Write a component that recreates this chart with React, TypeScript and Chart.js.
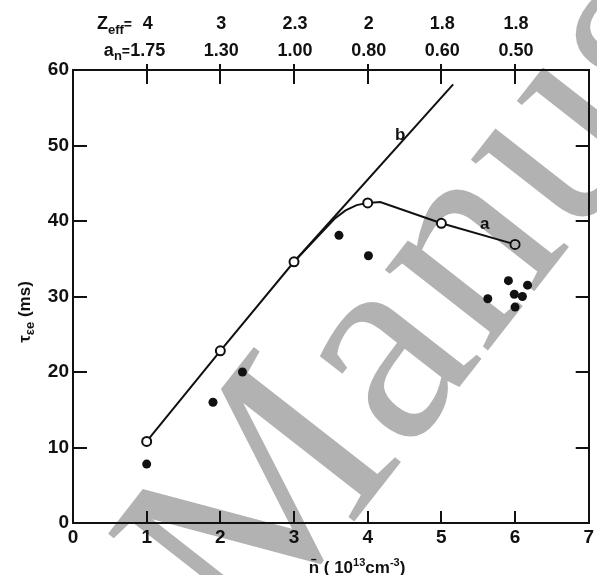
import React, { useEffect, useRef } from "react";
import { Chart, registerables } from "chart.js";
Chart.register(...registerables);

// ---- data ----
const openX = [1, 2, 3, 4, 5, 6];
const openY = [10.8, 22.8, 34.6, 42.4, 39.7, 36.9];
const curveAX = [1, 2, 3, 3.55, 3.7, 3.85, 4, 4.17, 5, 6];
const curveAY = [10.8, 22.8, 34.6, 40.3, 41.4, 42.1, 42.4, 42.5, 39.7, 36.9];
const lineBX = [3, 5.16];
const lineBY = [34.6, 58.1];
const filledX = [1.0, 1.9, 2.3, 3.61, 4.01, 5.63, 5.91, 5.99, 6.1, 6.17, 6.0];
const filledY = [7.8, 16.0, 20.0, 38.1, 35.4, 29.7, 32.1, 30.3, 30.0, 31.5, 28.6];
const topTickPos = [1, 2, 3, 4, 5, 6];
const zeffLabels = ["4", "3", "2.3", "2", "1.8", "1.8"];
const anLabels = ["1.75", "1.30", "1.00", "0.80", "0.60", "0.50"];
const yInnerTicks = [10, 20, 30, 40, 50];
const curveLabels = [
  { text: "b", x: 4.44, y: 51.4 },
  { text: "a", x: 5.59, y: 39.5 },
];

const SANS = "'Liberation Sans', Arial, sans-serif";

type Seg = { t: string; f: string; dy?: number };
function drawSegs(ctx: CanvasRenderingContext2D, segs: Seg[], x: number, y: number, align: "left" | "center" | "right") {
  let total = 0;
  const widths = segs.map((s) => {
    ctx.font = s.f;
    const w = ctx.measureText(s.t).width;
    total += w;
    return w;
  });
  let cx = align === "left" ? x : align === "center" ? x - total / 2 : x - total;
  ctx.textAlign = "left";
  ctx.textBaseline = "alphabetic";
  segs.forEach((s, i) => {
    ctx.font = s.f;
    ctx.fillText(s.t, cx, y + (s.dy || 0));
    cx += widths[i];
  });
}

const decorPlugin = {
  id: "decor",
  afterDraw(chart: any) {
    const ctx: CanvasRenderingContext2D = chart.ctx;
    const ca = chart.chartArea;
    const sx = chart.scales.x;
    const sy = chart.scales.y;
    ctx.save();
    ctx.strokeStyle = "#111";
    ctx.fillStyle = "#111";
    ctx.lineWidth = 2;
    // inward ticks
    topTickPos.forEach((v) => {
      const px = Math.round(sx.getPixelForValue(v));
      ctx.beginPath();
      ctx.moveTo(px, ca.bottom);
      ctx.lineTo(px, ca.bottom - 12);
      ctx.moveTo(px, ca.top - 6);
      ctx.lineTo(px, ca.top + 14);
      ctx.stroke();
    });
    yInnerTicks.forEach((v) => {
      const py = Math.round(sy.getPixelForValue(v));
      ctx.beginPath();
      ctx.moveTo(ca.left, py);
      ctx.lineTo(ca.left + 14, py);
      ctx.moveTo(ca.right, py);
      ctx.lineTo(ca.right - 13, py);
      ctx.stroke();
    });
    // top labels
    const fnt = `bold 18px ${SANS}`;
    const fsub = `bold 13px ${SANS}`;
    topTickPos.forEach((v, i) => {
      const px = sx.getPixelForValue(v) + 1;
      ctx.font = fnt;
      ctx.textAlign = "center";
      ctx.textBaseline = "alphabetic";
      ctx.fillText(zeffLabels[i], px, 29);
      ctx.fillText(anLabels[i], px, 56);
    });
    drawSegs(ctx, [{ t: "Z", f: fnt }, { t: "eff", f: fsub, dy: 5 }, { t: "=", f: `bold 14px ${SANS}` }], 132, 29, "right");
    drawSegs(ctx, [{ t: "a", f: fnt }, { t: "n", f: fsub, dy: 4 }, { t: "=", f: `bold 14px ${SANS}` }], 130, 56, "right");
    // curve labels
    ctx.font = `bold 17px ${SANS}`;
    ctx.textAlign = "center";
    ctx.textBaseline = "middle";
    curveLabels.forEach((l) => {
      ctx.fillText(l.text, sx.getPixelForValue(l.x), sy.getPixelForValue(l.y));
    });
    // x title
    const tf = `bold 17px ${SANS}`;
    const ts = `bold 11px ${SANS}`;
    drawSegs(
      ctx,
      [
        { t: "n\u0304", f: tf },
        { t: " ( 10", f: tf },
        { t: "13", f: ts, dy: -7 },
        { t: "cm", f: tf },
        { t: "-3", f: ts, dy: -7 },
        { t: ")", f: tf },
      ],
      357,
      573,
      "center"
    );
    // y title
    ctx.save();
    ctx.translate(30, 312);
    ctx.rotate(-Math.PI / 2);
    drawSegs(
      ctx,
      [
        { t: "\u03c4", f: tf },
        { t: "\u03b5e", f: `bold 13px ${SANS}`, dy: 4 },
        { t: " (ms)", f: tf },
      ],
      0,
      0,
      "center"
    );
    ctx.restore();
    // watermark
    ctx.save();
    ctx.globalCompositeOperation = "darken";
    ctx.fillStyle = "rgb(178,178,178)";
    ctx.translate(250, 655);
    ctx.rotate((-52 * Math.PI) / 180);
    ctx.font = "285px 'Liberation Serif', 'Times New Roman', serif";
    ctx.textAlign = "left";
    ctx.textBaseline = "alphabetic";
    ctx.fillText("Manuscript", 0, 0);
    ctx.restore();
    ctx.restore();
  },
};

export default function App() {
  const ref = useRef<HTMLCanvasElement | null>(null);
  useEffect(() => {
    if (!ref.current) return;
    const tickFont = { family: SANS, size: 19, weight: "bold" as const };
    const chart = new Chart(ref.current, {
      type: "scatter",
      data: {
        datasets: [
          {
            label: "open",
            data: openX.map((x, i) => ({ x, y: openY[i] })),
            pointRadius: 4.5,
            pointBackgroundColor: "#fff",
            pointBorderColor: "#111",
            pointBorderWidth: 2,
            showLine: false,
            order: 0,
          },
          {
            label: "filled",
            data: filledX.map((x, i) => ({ x, y: filledY[i] })),
            pointRadius: 4.5,
            pointBackgroundColor: "#111",
            pointBorderColor: "#111",
            pointBorderWidth: 0,
            showLine: false,
            order: 1,
          },
          {
            label: "a",
            data: curveAX.map((x, i) => ({ x, y: curveAY[i] })),
            showLine: true,
            borderColor: "#111",
            borderWidth: 2,
            pointRadius: 0,
            tension: 0,
            order: 2,
          },
          {
            label: "b",
            data: lineBX.map((x, i) => ({ x, y: lineBY[i] })),
            showLine: true,
            borderColor: "#111",
            borderWidth: 2,
            pointRadius: 0,
            order: 3,
          },
        ],
      },
      options: {
        animation: false,
        responsive: false,
        devicePixelRatio: 1,
        layout: { padding: 0 },
        plugins: { legend: { display: false }, tooltip: { enabled: false } },
        scales: {
          x: {
            type: "linear",
            position: "bottom",
            min: 0,
            max: 7,
            ticks: { stepSize: 1, font: tickFont, color: "#111", padding: 3, maxRotation: 0 },
            grid: { display: false, drawTicks: false },
            border: { display: true, color: "#111", width: 2 },
            afterFit: (s: any) => { s.height = 52; },
          },
          xTop: {
            type: "linear",
            position: "top",
            min: 0,
            max: 7,
            ticks: { display: false },
            grid: { display: false, drawTicks: false },
            border: { display: true, color: "#111", width: 2 },
            afterFit: (s: any) => { s.height = 70; },
          },
          y: {
            type: "linear",
            position: "left",
            min: 0,
            max: 60,
            ticks: { stepSize: 10, font: tickFont, color: "#111", padding: 4 },
            grid: { display: false, drawTicks: false },
            border: { display: true, color: "#111", width: 2 },
            afterFit: (s: any) => { s.width = 73; },
          },
          yRight: {
            type: "linear",
            position: "right",
            min: 0,
            max: 60,
            ticks: { display: false },
            grid: { display: false, drawTicks: false },
            border: { display: true, color: "#111", width: 2 },
            afterFit: (s: any) => { s.width = 3; },
          },
        },
      },
      plugins: [decorPlugin],
    });
    return () => chart.destroy();
  }, []);
  return (
    <div style={{ position: "absolute", left: 0, top: 0, width: 597, height: 575, background: "#fff" }}>
      <canvas ref={ref} width={597} height={575} style={{ display: "block" }} />
    </div>
  );
}
